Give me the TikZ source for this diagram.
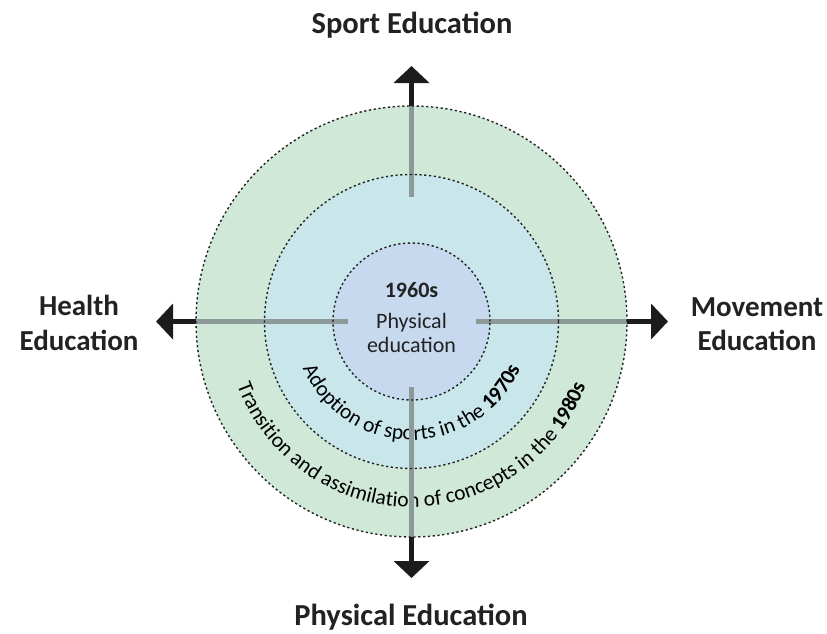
\documentclass[tikz,border=0pt]{standalone}
\usepackage{fontspec}
\setmainfont{Carlito}
\usetikzlibrary{arrows.meta,decorations.text,calc}
\definecolor{ringO}{HTML}{CFE8D7}
\definecolor{ringM}{HTML}{C9E6EB}
\definecolor{ringI}{HTML}{C6D9EF}
\definecolor{axisgrey}{HTML}{8E9A99}
\definecolor{ink}{HTML}{222222}
\definecolor{arrowblack}{HTML}{1C1C1C}
\begin{document}
\begin{tikzpicture}[x=1pt,y=1pt,
  ring/.style={circle, inner sep=0pt, outer sep=0pt},
  ringline/.style={draw=ink, line width=1.4pt, dash pattern=on 2.2pt off 2.6pt},
  axis/.style={draw=axisgrey, line width=5pt},
  pointer/.style={draw=arrowblack, line width=5pt, -{Triangle[length=17pt,width=35pt]}},
  title/.style={font=\fontsize{30.5}{36}\selectfont\bfseries, text=ink, inner sep=0pt, anchor=base},
  side/.style={font=\fontsize{29}{34}\selectfont\bfseries, text=ink, inner sep=0pt, anchor=base},
  core/.style={font=\fontsize{22}{26}\selectfont, text=ink, inner sep=0pt, anchor=base}
]
\useasboundingbox (0,0) rectangle (827,-634);
\coordinate (C) at (411.5,-321.5);
\node[ring, minimum size=431pt, fill=ringO] (outer) at (C) {};
\node[ring, minimum size=294pt, fill=ringM] (middle) at (C) {};
\node[ring, minimum size=157pt, fill=ringI] (inner) at (C) {};

\begin{scope}
\fontsize{21.5}{25}\selectfont
\path[decorate, decoration={text along path, text align=center,
  text={Adoption of sports in the |\bfseries|1970s}}]
  ($(C)+(180:118.5)$) arc[start angle=180, end angle=360, radius=118.5];
\path[decorate, decoration={text along path, text align=center,
  text={Transition and assimilation of concepts in the |\bfseries|1980s}}]
  ($(C)+(180:185.5)$) arc[start angle=180, end angle=360, radius=185.5];
\end{scope}

\coordinate (nEnd) at (411.5,-197);
\coordinate (sEnd) at (411.5,-387);
\coordinate (wEnd) at (348,-321.5);
\coordinate (eEnd) at (476,-321.5);
\draw[axis] (outer.north) -- (nEnd);
\draw[axis] (outer.south) -- (sEnd);
\draw[axis] (outer.west) -- (wEnd);
\draw[axis] (outer.east) -- (eEnd);

\draw[ringline] (outer.center) circle[radius=215.5];
\draw[ringline] (middle.center) circle[radius=147];
\draw[ringline] (inner.center) circle[radius=78.5];

\coordinate (nTip) at (411.5,-66);
\coordinate (sTip) at (411.5,-578);
\coordinate (wTip) at (156,-321.5);
\coordinate (eTip) at (668,-321.5);
\draw[pointer] (outer.north) -- (nTip);
\draw[pointer] (outer.south) -- (sTip);
\draw[pointer] (outer.west) -- (wTip);
\draw[pointer] (outer.east) -- (eTip);

\node[core, font=\fontsize{22}{26}\selectfont\bfseries] (era) at (411.5,-297) {1960s};
\node[core] (pe1) at (411.5,-328) {Physical};
\node[core] (pe2) at (411.5,-352) {education};

\node[title] (sport) at (412,-34) {Sport Education};
\node[title] (phys) at (411,-625) {Physical Education};
\node[side] (health1) at (79,-315) {Health};
\node[side] (health2) at (79,-350) {Education};
\node[side] (move1) at (757,-316) {Movement};
\node[side] (move2) at (757,-350) {Education};
\end{tikzpicture}
\end{document}
